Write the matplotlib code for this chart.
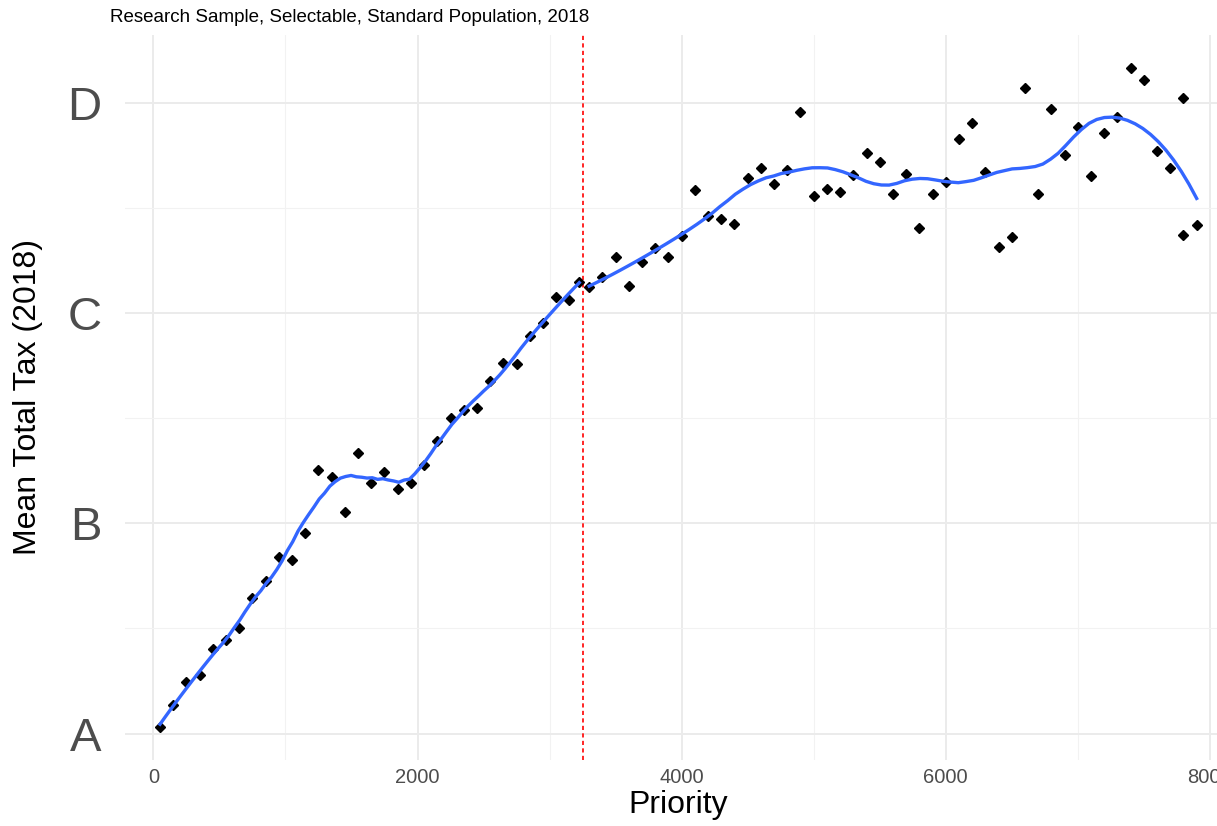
import numpy as np
import matplotlib
matplotlib.use("Agg")
import matplotlib.pyplot as plt
from matplotlib.ticker import FixedLocator

plt.rcParams['font.family'] = ['Liberation Sans', 'DejaVu Sans']

# Binned means of the tax grade (A=1 ... D=4) by priority rank
priority_below = [50, 150, 250, 350, 450, 550, 650, 750, 850, 950, 1050, 1150,
                  1250, 1350, 1450, 1550, 1650, 1750, 1850, 1950, 2050, 2150,
                  2250, 2350, 2450, 2550, 2650, 2750, 2850, 2950, 3050, 3150, 3225]
tax_below = [1.030, 1.136, 1.247, 1.280, 1.402, 1.445, 1.501, 1.646, 1.726, 1.841,
             1.826, 1.953, 2.254, 2.222, 2.056, 2.334, 2.194, 2.246, 2.164, 2.191,
             2.278, 2.393, 2.500, 2.540, 2.548, 2.679, 2.765, 2.759, 2.892, 2.955,
             3.079, 3.063, 3.150]

priority_above = [3300, 3400, 3500, 3600, 3700, 3800, 3900, 4000, 4100, 4200,
                  4300, 4400, 4500, 4600, 4700, 4800, 4900, 5000, 5100, 5200,
                  5300, 5400, 5500, 5600, 5700, 5800, 5900, 6000, 6100, 6200,
                  6300, 6400, 6500, 6600, 6700, 6800, 6900, 7000, 7100, 7200,
                  7300, 7400, 7500, 7600, 7700, 7800, 7800, 7900]
tax_above = [3.127, 3.174, 3.269, 3.131, 3.243, 3.309, 3.269, 3.368, 3.587, 3.463,
             3.449, 3.426, 3.642, 3.693, 3.615, 3.682, 3.960, 3.560, 3.590, 3.576,
             3.658, 3.761, 3.719, 3.568, 3.663, 3.405, 3.568, 3.626, 3.830, 3.904,
             3.674, 3.317, 3.362, 4.074, 3.568, 3.973, 3.753, 3.885, 3.655, 3.860,
             3.936, 4.169, 4.110, 3.774, 3.690, 4.026, 3.373, 3.420]

cutoff = 3250
grade_ticks = [1, 2, 3, 4]
grade_labels = ["A", "B", "C", "D"]
x_ticks = [0, 2000, 4000, 6000, 8000]


def loess(x, y, span, xs, degree=2):
    """Local polynomial regression with tricube weights."""
    x = np.asarray(x, float)
    y = np.asarray(y, float)
    n = len(x)
    q = max(int(np.floor(n * span)), degree + 1)
    out = []
    for x0 in xs:
        d = np.abs(x - x0)
        h = np.sort(d)[q - 1] * 1.0001
        w = np.clip(1 - (d / h) ** 3, 0, None) ** 3
        X = np.vander(x - x0, degree + 1, increasing=True)
        W = np.sqrt(w)
        beta, *_ = np.linalg.lstsq(X * W[:, None], y * W, rcond=None)
        out.append(beta[0])
    return np.array(out)


W_PX, H_PX = 1217, 826
fig = plt.figure(figsize=(W_PX / 100, H_PX / 100), dpi=100)
ax = fig.add_axes([125 / W_PX, 1 - 760 / H_PX, (W_PX - 125) / W_PX, (760 - 35) / H_PX])

for s in ax.spines.values():
    s.set_visible(False)

ax.set_xlim(-215, 8054)
ax.set_ylim(0.874, 4.325)

ax.xaxis.set_major_locator(FixedLocator(x_ticks))
ax.xaxis.set_minor_locator(FixedLocator([1000, 3000, 5000, 7000]))
ax.yaxis.set_major_locator(FixedLocator(grade_ticks))
ax.yaxis.set_minor_locator(FixedLocator([1.5, 2.5, 3.5]))
ax.set_yticklabels(grade_labels)
ax.set_xticklabels([str(t) for t in x_ticks])

ax.grid(which='major', color='#EBEBEB', linewidth=1.4)
ax.grid(which='minor', color='#F2F2F2', linewidth=0.8)
ax.set_axisbelow(True)

ax.tick_params(which='both', length=0)
ax.tick_params(axis='y', labelsize=34, labelcolor='#4D4D4D', pad=17)
ax.tick_params(axis='x', labelsize=14.5, labelcolor='#4D4D4D', pad=6)

# Points
ax.plot(priority_below, tax_below, linestyle='none', marker='D', ms=5.6,
        color='black', zorder=3)
ax.plot(priority_above, tax_above, linestyle='none', marker='D', ms=5.6,
        color='black', zorder=3)

# Separate smooths on each side of the cutoff
for px, ty, span in ((priority_below, tax_below, 0.35),
                     (priority_above, tax_above, 0.43)):
    xs = np.linspace(min(px), max(px), 80)
    ax.plot(xs, loess(px, ty, span, xs), color='#3366FF', linewidth=2.4, zorder=4)

ax.axvline(cutoff, color='#FF0000', linestyle=(0, (2.5, 2)), linewidth=1.2, zorder=2)

fig.text(110 / W_PX, 1 - 17 / H_PX,
         "Research Sample, Selectable, Standard Population, 2018",
         ha='left', va='center', fontsize=13.5, color='black')
fig.text(678 / W_PX, 1 - 805 / H_PX, "Priority", ha='center', va='center',
         fontsize=23, color='black')
fig.text(28 / W_PX, 1 - 397 / H_PX, "Mean Total Tax (2018)", ha='center',
         va='center', rotation=90, fontsize=23, color='black')

fig.savefig("out.png", dpi=100)
